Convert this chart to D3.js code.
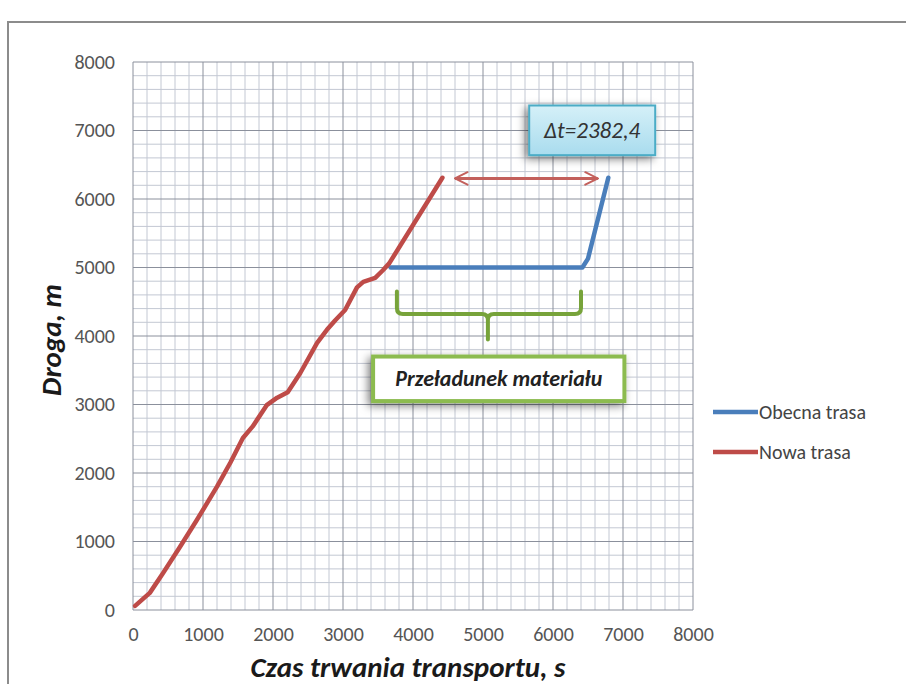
<!DOCTYPE html>
<html>
<head>
<meta charset="utf-8">
<script src="https://cdn.jsdelivr.net/npm/d3@7"></script>
<style>
  body { margin: 0; background: #fff; }
  svg { display: block; }
</style>
</head>
<body>
<div id="chart"></div>
<script>
// chart values
var xTicks = [0, 1000, 2000, 3000, 4000, 5000, 6000, 7000, 8000];
var yTicks = [0, 1000, 2000, 3000, 4000, 5000, 6000, 7000, 8000];

var seriesNames = ["Obecna trasa", "Nowa trasa"];
var seriesColors = ["#4a7ebb", "#be4b48"];

// Nowa trasa (time s, distance m)
var nowaT = [30, 240, 430, 670, 910, 1200, 1390, 1570, 1710, 1910, 2060, 2210, 2390, 2630, 2770, 2890, 3030, 3200, 3290, 3460, 3570, 3660, 4420];
var nowaD = [60, 250, 540, 920, 1310, 1800, 2150, 2510, 2680, 2990, 3100, 3180, 3460, 3900, 4090, 4230, 4380, 4710, 4790, 4850, 4960, 5060, 6310];

// Obecna trasa (visible part)
var obecnaT = [3680, 6420, 6500, 6790];
var obecnaD = [5000, 5000, 5130, 6310];

var deltaLabel = "\u0394t=2382,4";
var braceLabel = "Przeładunek materiału";

//SVG sizes
var width = 906, height = 684;
var plot = {left: 133, right: 693, top: 62, bottom: 610};

var svg = d3.select("#chart").append("svg")
    .attr("width", width)
    .attr("height", height);

var defs = svg.append("defs");
var shadow = defs.append("filter").attr("id", "shadow")
    .attr("x", "-20%").attr("y", "-30%").attr("width", "140%").attr("height", "170%");
shadow.append("feDropShadow")
    .attr("dx", -3).attr("dy", 3).attr("stdDeviation", 4)
    .attr("flood-color", "#000").attr("flood-opacity", 0.5);

var grad = defs.append("linearGradient").attr("id", "boxgrad")
    .attr("x1", 0).attr("y1", 0).attr("x2", 0).attr("y2", 1);
grad.append("stop").attr("offset", "0%").attr("stop-color", "#d5f0f8");
grad.append("stop").attr("offset", "100%").attr("stop-color", "#a9dcee");

// arrow heads (open chevrons)
["arrEnd", "arrStart"].forEach(function(id) {
  defs.append("marker").attr("id", id)
      .attr("viewBox", "0 0 12 12")
      .attr("refX", id == "arrEnd" ? 11 : 1).attr("refY", 6)
      .attr("markerWidth", 5).attr("markerHeight", 5)
      .attr("markerUnits", "strokeWidth")
      .attr("orient", "auto")
    .append("path")
      .attr("d", id == "arrEnd" ? "M1,1 L11,6 L1,11" : "M11,1 L1,6 L11,11")
      .attr("fill", "none")
      .attr("stroke", "#c3605c")
      .attr("stroke-width", 1.6)
      .attr("stroke-linecap", "round");
});

//outer frame
svg.append("path")
    .attr("d", "M8," + height + " L8,22 L" + width + ",22")
    .attr("fill", "none")
    .attr("stroke", "#8c8c8c")
    .attr("stroke-width", 2);

var x = d3.scaleLinear().domain([0, 8000]).range([plot.left, plot.right]);
var y = d3.scaleLinear().domain([0, 8000]).range([plot.bottom, plot.top]);

//grid, minor then major
var minor = d3.range(0, 8001, 200).filter(function(v) { return v % 1000 != 0; });
var grid = svg.append("g");
grid.selectAll(".vmin").data(minor).enter().append("line")
    .attr("x1", x).attr("x2", x).attr("y1", plot.top).attr("y2", plot.bottom)
    .attr("stroke", "#c3c8d3").attr("stroke-width", 1);
grid.selectAll(".hmin").data(minor).enter().append("line")
    .attr("y1", y).attr("y2", y).attr("x1", plot.left).attr("x2", plot.right)
    .attr("stroke", "#c3c8d3").attr("stroke-width", 1);
grid.selectAll(".vmaj").data(xTicks).enter().append("line")
    .attr("x1", x).attr("x2", x).attr("y1", plot.top).attr("y2", plot.bottom)
    .attr("stroke", "#8b909c").attr("stroke-width", 1);
grid.selectAll(".hmaj").data(yTicks).enter().append("line")
    .attr("y1", y).attr("y2", y).attr("x1", plot.left).attr("x2", plot.right)
    .attr("stroke", "#8b909c").attr("stroke-width", 1);

//axes
var tickFont = "Carlito, Lato, 'Open Sans', sans-serif";
var xAxis = svg.append("g")
    .attr("transform", "translate(0," + plot.bottom + ")")
    .call(d3.axisBottom(x).tickValues(xTicks).tickSize(0).tickPadding(17).tickFormat(d3.format("d")));
var yAxis = svg.append("g")
    .attr("transform", "translate(" + plot.left + ",0)")
    .call(d3.axisLeft(y).tickValues(yTicks).tickSize(0).tickPadding(18).tickFormat(d3.format("d")));
[xAxis, yAxis].forEach(function(a) {
  a.select(".domain").remove();
  a.selectAll("text")
    .style("font-family", tickFont)
    .style("font-size", "20px")
    .attr("fill", "#555");
});

//axis titles
svg.append("text")
    .attr("x", 408).attr("y", 677)
    .attr("text-anchor", "middle")
    .style("font-family", tickFont)
    .style("font-size", "29px")
    .style("font-weight", "bold")
    .style("font-style", "italic")
    .attr("fill", "#1a1a1a")
    .text("Czas trwania transportu,  s");

svg.append("text")
    .attr("transform", "translate(61,340) rotate(-90)")
    .attr("text-anchor", "middle")
    .style("font-family", tickFont)
    .style("font-size", "29px")
    .style("font-weight", "bold")
    .style("font-style", "italic")
    .attr("fill", "#1a1a1a")
    .text("Droga,  m");

//series
var line = d3.line()
    .x(function(d) { return x(d[0]); })
    .y(function(d) { return y(d[1]); });

var series = [
  d3.zip(obecnaT, obecnaD),
  d3.zip(nowaT, nowaD)
];

svg.append("g").selectAll(".series")
    .data(series)
    .enter().append("path")
    .attr("class", "series")
    .attr("d", line)
    .attr("fill", "none")
    .attr("stroke", function(d, i) { return seriesColors[i]; })
    .attr("stroke-width", 4.5)
    .attr("stroke-linejoin", "round")
    .attr("stroke-linecap", "round");

//legend
var legend = svg.append("g").selectAll(".leg")
    .data(seriesNames)
    .enter().append("g")
    .attr("transform", function(d, i) { return "translate(713," + (412 + i * 40) + ")"; });
legend.append("line")
    .attr("x1", 0).attr("x2", 45).attr("y1", 0).attr("y2", 0)
    .attr("stroke", function(d, i) { return seriesColors[i]; })
    .attr("stroke-width", 4.5);
legend.append("text")
    .attr("x", 46).attr("y", 7)
    .style("font-family", tickFont)
    .style("font-size", "20px")
    .attr("fill", "#444")
    .text(function(d) { return d; });

//delta-t arrow and box
svg.append("line")
    .attr("x1", x(4600)).attr("x2", x(6640))
    .attr("y1", y(6300)).attr("y2", y(6300))
    .attr("stroke", "#c3605c")
    .attr("stroke-width", 3)
    .attr("marker-start", "url(#arrStart)")
    .attr("marker-end", "url(#arrEnd)");

var bx0 = x(5660), bx1 = x(7460), by0 = y(7365), by1 = y(6640);
svg.append("rect")
    .attr("x", bx0).attr("y", by0)
    .attr("width", bx1 - bx0).attr("height", by1 - by0)
    .attr("fill", "url(#boxgrad)")
    .attr("stroke", "#4bacc6")
    .attr("stroke-width", 2)
    .attr("filter", "url(#shadow)");
svg.append("text")
    .attr("x", (bx0 + bx1) / 2).attr("y", (by0 + by1) / 2 + 8)
    .attr("text-anchor", "middle")
    .style("font-family", tickFont)
    .style("font-size", "23px")
    .style("font-style", "italic")
    .attr("fill", "#333")
    .text(deltaLabel);

//brace
var bl = x(3770), br = x(6400), bm = x(5070);
var bTop = y(4650), bBar = y(4320), bTip = y(3950);
svg.append("path")
    .attr("d", "M" + bl + "," + bTop + " L" + bl + "," + (bBar - 6) +
        " Q" + bl + "," + bBar + " " + (bl + 6) + "," + bBar +
        " L" + (bm - 6) + "," + bBar +
        " Q" + bm + "," + bBar + " " + bm + "," + (bBar + 6) +
        " L" + bm + "," + bTip +
        " M" + bm + "," + (bBar + 6) +
        " Q" + bm + "," + bBar + " " + (bm + 6) + "," + bBar +
        " L" + (br - 6) + "," + bBar +
        " Q" + br + "," + bBar + " " + br + "," + (bBar - 6) +
        " L" + br + "," + bTop)
    .attr("fill", "none")
    .attr("stroke", "#77a33a")
    .attr("stroke-width", 4)
    .attr("stroke-linecap", "round");

var gx0 = x(3430), gx1 = x(7020), gy0 = y(3700), gy1 = y(3050);
svg.append("rect")
    .attr("x", gx0).attr("y", gy0)
    .attr("width", gx1 - gx0).attr("height", gy1 - gy0)
    .attr("fill", "#fff")
    .attr("stroke", "#8cbb4f")
    .attr("stroke-width", 4)
    .attr("filter", "url(#shadow)");
svg.append("text")
    .attr("x", (gx0 + gx1) / 2).attr("y", (gy0 + gy1) / 2 + 7)
    .attr("text-anchor", "middle")
    .style("font-family", tickFont)
    .style("font-size", "22px")
    .style("font-weight", "bold")
    .style("font-style", "italic")
    .attr("fill", "#222")
    .text(braceLabel);
</script>
</body>
</html>
